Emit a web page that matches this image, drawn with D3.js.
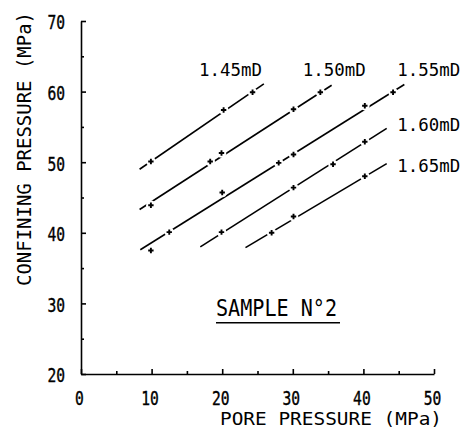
<!DOCTYPE html>
<html>
<head>
<meta charset="utf-8">
<script src="https://cdn.jsdelivr.net/npm/d3@7"></script>
<style>
  body { margin: 0; background: #fff; }
  text { font-family: "DejaVu Sans Mono", monospace; fill: #000; }
</style>
</head>
<body>
<svg id="chart"></svg>
<script>
const WIDTH = 466,
    HEIGHT = 436;

// permeability curves
const seriesNames = ["1.45mD", "1.50mD", "1.55mD", "1.60mD", "1.65mD"];

// fitted line ends, pore pressure / confining pressure (MPa)
const fitPore = [[8.3, 25.9], [8.3, 35.5], [8.4, 45.8], [16.9, 43.3], [23.3, 43.3]];
const fitConfining = [[49.0, 61.1], [43.3, 60.9], [37.6, 61.0], [38.0, 54.8], [37.9, 49.8]];

// measured points (pore, confining)
const measured = [
    [[9.9, 50.1], [20.2, 57.4], [24.3, 59.9]],
    [[9.9, 43.9], [18.3, 50.1], [19.9, 51.3], [30.1, 57.5], [33.9, 59.9]],
    [[9.9, 37.5], [12.5, 40.1], [20.0, 45.7], [28.0, 49.9], [30.1, 51.1], [40.2, 58.0], [44.2, 59.9]],
    [[19.9, 40.1], [30.1, 46.4], [35.7, 49.7], [40.2, 52.9]],
    [[27.0, 40.0], [30.1, 42.3], [40.2, 48.0]]
];

const xTicks = [0, 10, 20, 30, 40, 50];
const yTicks = [20, 30, 40, 50, 60, 70];
const xMinor = [5, 15, 25, 35, 45];
const yMinor = [25, 35, 45, 55, 65];

// where the curve names sit (data coords, start of text / baseline)
const labelAt = [[16.7, 62.2], [31.4, 62.2], [44.8, 62.2], [44.8, 54.4], [44.8, 48.65]];

const svg = d3.select("#chart")
    .attr("width", WIDTH)
    .attr("height", HEIGHT);

const escalaX = d3.scaleLinear().domain([0, 50]).range([81, 434]);
const escalaY = d3.scaleLinear().domain([20, 70]).range([374, 21]);

// ejes
const ejeY = svg.append("g")
    .attr("transform", "translate(81 0)")
    .call(d3.axisLeft(escalaY).tickValues(yTicks).tickSize(-5).tickSizeOuter(0).tickPadding(16));

ejeY.selectAll("text")
    .attr("font-size", 19.5)
    .attr("font-family", "DejaVu Sans")
    .attr("stroke", "#000")
    .attr("stroke-width", 0.4)
    .attr("textLength", d => String(d).length * 8.8)
    .attr("lengthAdjust", "spacingAndGlyphs")
    .attr("dy", "0.4em");

svg.append("g")
    .attr("transform", "translate(81 0)")
    .call(d3.axisLeft(escalaY).tickValues(yMinor).tickSize(-3).tickSizeOuter(0).tickFormat(""))
    .select(".domain").remove();

const ejeX = svg.append("g")
    .attr("transform", "translate(0 374)")
    .call(d3.axisBottom(escalaX).tickValues(xTicks).tickSize(-5).tickSizeOuter(0).tickPadding(17));

ejeX.selectAll("text")
    .attr("font-size", 19.5)
    .attr("font-family", "DejaVu Sans")
    .attr("stroke", "#000")
    .attr("stroke-width", 0.4)
    .attr("textLength", d => String(d).length * 8.8)
    .attr("lengthAdjust", "spacingAndGlyphs")
    .attr("dx", -2);

svg.append("g")
    .attr("transform", "translate(0 374)")
    .call(d3.axisBottom(escalaX).tickValues(xMinor).tickSize(-3).tickSizeOuter(0).tickFormat(""))
    .select(".domain").remove();

svg.selectAll(".domain, .tick line")
    .attr("stroke", "#000")
    .attr("stroke-width", 1.6);

// titulos
svg.append("text")
    .attr("x", 220)
    .attr("y", 425)
    .attr("font-size", 18)
    .attr("textLength", 222)
    .attr("lengthAdjust", "spacingAndGlyphs")
    .text("PORE PRESSURE (MPa)");

svg.append("text")
    .attr("transform", "translate(31 286) rotate(-90)")
    .attr("font-size", 19)
    .attr("textLength", 274)
    .attr("lengthAdjust", "spacingAndGlyphs")
    .text("CONFINING PRESSURE (MPa)");

// curvas
const linea = d3.line()
    .x(d => escalaX(d[0]))
    .y(d => escalaY(d[1]));

const curvas = svg.append("g");

seriesNames.forEach((nombre, i) => {
    const g = curvas.append("g");
    const tramo = fitPore[i].map((p, k) => [p, fitConfining[i][k]]);

    g.append("path")
        .datum(tramo)
        .attr("d", linea)
        .attr("fill", "none")
        .attr("stroke", "#000")
        .attr("stroke-width", 1.6);

    // hueco blanco alrededor de cada cruz
    g.selectAll("circle")
        .data(measured[i])
        .join("circle")
        .attr("cx", d => escalaX(d[0]))
        .attr("cy", d => escalaY(d[1]))
        .attr("r", 4.8)
        .attr("fill", "#fff");

    g.selectAll("path.cruz")
        .data(measured[i])
        .join("path")
        .attr("class", "cruz")
        .attr("transform", d => `translate(${escalaX(d[0])} ${escalaY(d[1])})`)
        .attr("d", "M-2.7,0H2.7M0,-2.7V2.7")
        .attr("stroke", "#000")
        .attr("stroke-width", 1.9);

    g.append("text")
        .attr("x", escalaX(labelAt[i][0]))
        .attr("y", escalaY(labelAt[i][1]))
        .attr("font-size", 17.7)
        .attr("textLength", 63)
        .attr("lengthAdjust", "spacingAndGlyphs")
        .text(nombre);
});

// muestra
svg.append("text")
    .attr("x", 216)
    .attr("y", 316)
    .attr("font-size", 23)
    .attr("textLength", 121)
    .attr("lengthAdjust", "spacingAndGlyphs")
    .text("SAMPLE N°2");

svg.append("line")
    .attr("x1", 216)
    .attr("x2", 340)
    .attr("y1", 322.7)
    .attr("y2", 322.7)
    .attr("stroke", "#000")
    .attr("stroke-width", 1.4);
</script>
</body>
</html>
